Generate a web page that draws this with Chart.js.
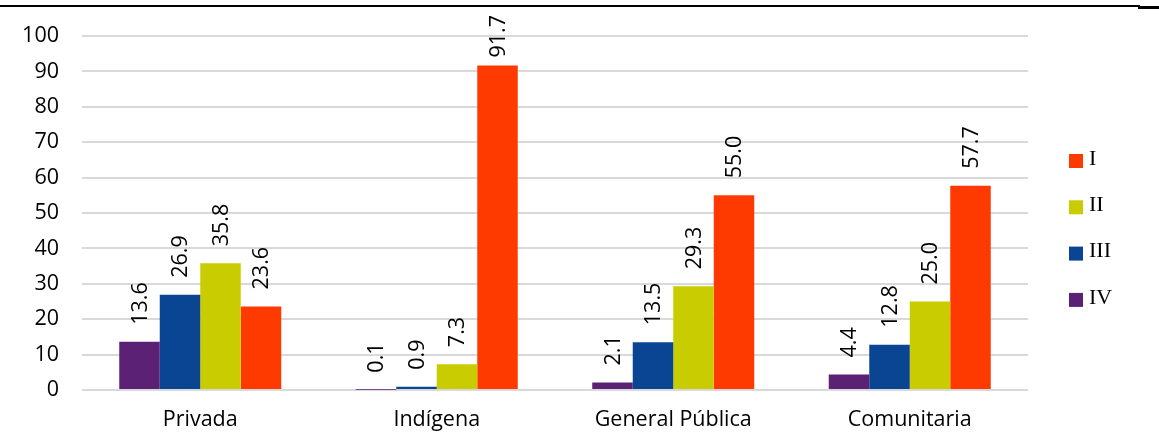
<!DOCTYPE html>
<html>
<head>
<meta charset="utf-8">
<script src="https://cdn.jsdelivr.net/npm/chart.js@4.4.1/dist/chart.umd.min.js"></script>
<style>
  html, body { margin: 0; padding: 0; background: #fff; }
  #wrap { position: relative; width: 1159px; height: 432px; overflow: hidden; }
  #rule { position: absolute; left: 0; top: 5px; width: 1140px; height: 2px; background: #000; }
  #ruleEnd { position: absolute; left: 1138px; top: 6px; width: 21px; height: 3px; background: #000; }
  canvas { position: absolute; left: 0; top: 0; }
</style>
</head>
<body>
<div id="wrap">
  <canvas id="chart" width="1159" height="432"></canvas>
  <div id="rule"></div>
  <div id="ruleEnd"></div>
</div>
<script>
// -----------------------
// Data
// -----------------------
const categories = ['Privada', 'Indígena', 'General Pública', 'Comunitaria'];
const seriesIV  = [13.6, 0.1, 2.1, 4.4];
const seriesIII = [26.9, 0.9, 13.5, 12.8];
const seriesII  = [35.8, 7.3, 29.3, 25.0];
const seriesI   = [23.6, 91.7, 55.0, 57.7];
const yTicks = [0, 10, 20, 30, 40, 50, 60, 70, 80, 90, 100];

const FONT = "'Open Sans', 'Noto Sans', sans-serif";

// -----------------------
// Value labels, rotated, above each bar
// -----------------------
const valueLabels = {
  id: 'valueLabels',
  afterDatasetsDraw(chart) {
    const ctx = chart.ctx;
    ctx.save();
    ctx.font = '21.5px ' + FONT;
    ctx.fillStyle = '#000';
    ctx.textAlign = 'left';
    ctx.textBaseline = 'middle';
    chart.data.datasets.forEach((ds, di) => {
      chart.getDatasetMeta(di).data.forEach((bar, i) => {
        const txt = ds.data[i].toFixed(1);
        const w = ctx.measureText(txt).width;
        const anchor = Math.max(bar.y - 17, 15 + w);
        ctx.save();
        ctx.translate(bar.x, anchor);
        ctx.rotate(-Math.PI / 2);
        ctx.fillText(txt, 0, 1);
        ctx.restore();
      });
    });
    ctx.restore();
  }
};

// -----------------------
// Legend (I at top, IV at bottom)
// -----------------------
const sideLegend = {
  id: 'sideLegend',
  afterDraw(chart) {
    const ctx = chart.ctx;
    const x = chart.chartArea.right + 41;
    ctx.save();
    ctx.font = "22px 'Liberation Serif', serif";
    ctx.textAlign = 'left';
    ctx.textBaseline = 'middle';
    const items = chart.data.datasets.slice().reverse();
    items.forEach((ds, i) => {
      const y = 154 + i * 46.3;
      ctx.fillStyle = ds.backgroundColor;
      ctx.fillRect(x, y, 14, 14);
      ctx.fillStyle = '#000';
      ctx.fillText(ds.label, x + 20, y + 5);
    });
    ctx.restore();
  }
};

new Chart(document.getElementById('chart'), {
  type: 'bar',
  data: {
    labels: categories,
    datasets: [
      { label: 'IV',  data: seriesIV,  backgroundColor: '#5B2175' },
      { label: 'III', data: seriesIII, backgroundColor: '#0A4594' },
      { label: 'II',  data: seriesII,  backgroundColor: '#C8CC00' },
      { label: 'I',   data: seriesI,   backgroundColor: '#FF3A00' }
    ]
  },
  options: {
    responsive: false,
    animation: false,
    devicePixelRatio: 1,
    datasets: { bar: { categoryPercentage: 0.685, barPercentage: 1.0, borderWidth: 0 } },
    layout: { padding: { top: 36, right: 131, left: 0, bottom: 0 } },
    plugins: { legend: { display: false }, tooltip: { enabled: false } },
    scales: {
      x: {
        grid: { display: false },
        border: { display: false },
        ticks: { color: '#000', font: { family: FONT, size: 21.5 }, padding: 9 },
        afterFit(scale) { scale.height = 42; }
      },
      y: {
        min: 0,
        max: 100,
        afterBuildTicks(scale) { scale.ticks = yTicks.map(v => ({ value: v })); },
        grid: { color: '#d9d9d9', lineWidth: 2, drawTicks: false },
        border: { display: false },
        ticks: { color: '#000', font: { family: FONT, size: 21.5 }, padding: 23 },
        afterFit(scale) { scale.width = 82; }
      }
    }
  },
  plugins: [valueLabels, sideLegend]
});
</script>
</body>
</html>
